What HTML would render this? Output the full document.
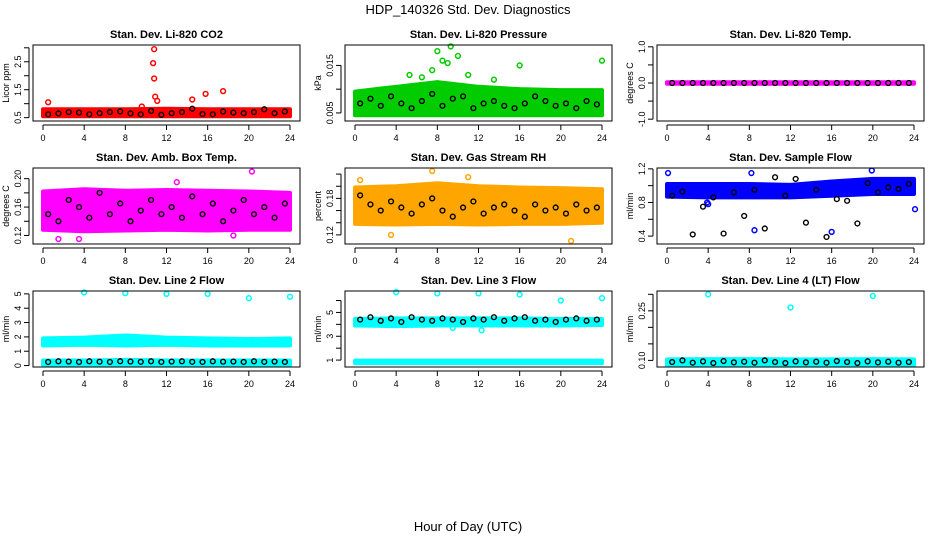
<!DOCTYPE html>
<html><head><meta charset="utf-8">
<style>
body{margin:0;background:#fff;}
svg{display:block;font-family:"Liberation Sans",Arial,sans-serif;}
</style></head>
<body>
<svg id="chart" width="936" height="540" viewBox="0 0 936 540">
<text x="468" y="14" text-anchor="middle" font-size="13">HDP_140326  Std. Dev. Diagnostics</text>
<text x="468" y="531" text-anchor="middle" font-size="13">Hour of Day (UTC)</text>
</svg>
<script>
// ---- shared data ----
const xTicks = [0,4,8,12,16,20,24];
const bandX = [0,4,8,12,16,20,24];
const blackX = [0.5,1.5,2.5,3.5,4.5,5.5,6.5,7.5,8.5,9.5,10.5,11.5,12.5,13.5,14.5,15.5,16.5,17.5,18.5,19.5,20.5,21.5,22.5,23.5];

// Panel 1 CO2
const co2Lo = [0.55,0.55,0.55,0.55,0.55,0.55,0.55];
const co2Hi = [0.8,0.8,0.8,0.82,0.8,0.8,0.8];
const co2OutX = [0.5,10.8,10.7,10.8,10.9,11.1,14.5,15.8,17.5,9.6];
const co2OutY = [1.05,2.95,2.45,1.9,1.25,1.1,1.15,1.35,1.45,0.9];
const co2Black = [0.62,0.65,0.7,0.68,0.62,0.66,0.7,0.72,0.65,0.62,0.74,0.6,0.66,0.7,0.82,0.63,0.62,0.72,0.68,0.66,0.7,0.8,0.66,0.72];
// Panel 2 Pressure
const prLo = [0.0045,0.0045,0.0045,0.0045,0.0045,0.0045,0.0045];
const prHi = [0.0095,0.0105,0.0115,0.0105,0.01,0.0098,0.0098];
const prOutX = [8,8.5,9.3,7.5,9,10,16,24,5.3,11,13.5,6.5];
const prOutY = [0.018,0.016,0.019,0.014,0.0155,0.017,0.015,0.016,0.013,0.013,0.012,0.0125];
const prBlack = [0.007,0.008,0.0065,0.0085,0.007,0.006,0.0075,0.009,0.0065,0.008,0.0085,0.006,0.007,0.0075,0.0065,0.006,0.007,0.0085,0.0075,0.0065,0.007,0.006,0.0075,0.0068];
// Panel 3 Temp
const tLo = [-0.02,-0.02,-0.02,-0.02,-0.02,-0.02,-0.02];
const tHi = [0.02,0.02,0.02,0.02,0.02,0.02,0.02];
const tOutX = [];
const tOutY = [];
const tBlack = [0,0,0,0,0,0,0,0,0,0,0,0,0,0,0,0,0,0,0,0,0,0,0,0];
// Panel 4 Amb box
const abLo = [0.128,0.126,0.127,0.128,0.127,0.128,0.128];
const abHi = [0.182,0.185,0.183,0.184,0.183,0.182,0.18];
const abOutX = [20.3,1.5,3.5,13,18.5];
const abOutY = [0.21,0.115,0.115,0.195,0.12];
const abBlack = [0.15,0.14,0.17,0.16,0.145,0.18,0.15,0.165,0.14,0.155,0.17,0.15,0.16,0.145,0.175,0.15,0.165,0.14,0.155,0.17,0.15,0.16,0.145,0.165];
// Panel 5 Gas RH
const rhLo = [0.138,0.137,0.138,0.137,0.138,0.138,0.14];
const rhHi = [0.198,0.2,0.205,0.2,0.198,0.197,0.195];
const rhOutX = [7.5,0.5,21,3.5,11];
const rhOutY = [0.225,0.21,0.11,0.12,0.215];
const rhBlack = [0.185,0.17,0.16,0.175,0.165,0.155,0.17,0.18,0.16,0.15,0.165,0.175,0.155,0.165,0.17,0.16,0.15,0.17,0.16,0.165,0.155,0.17,0.16,0.165];
// Panel 6 Sample flow
const sfLo = [0.87,0.86,0.86,0.86,0.88,0.9,0.9];
const sfHi = [1.02,1.02,1.02,1.01,1.05,1.08,1.08];
const sfOutX = [0.1,8.2,19.9,24.1,16,8.5,4,3.9];
const sfOutY = [1.15,1.15,1.18,0.72,0.45,0.47,0.78,0.8];
const sfBlack = [0.88,0.93,0.42,0.75,0.86,0.43,0.92,0.64,0.95,0.49,1.1,0.88,1.08,0.56,0.95,0.39,0.84,0.82,0.55,1.03,0.92,0.98,0.96,1.02];
// Panel 7 Line 2
const l2Lo = [1.4,1.45,1.4,1.45,1.4,1.4,1.4];
const l2Hi = [1.9,1.95,2.1,1.95,1.9,1.85,1.9];
const l2Lo2 = [0.05,0.05,0.05,0.05,0.05,0.05,0.05];
const l2Hi2 = [0.35,0.35,0.4,0.35,0.35,0.35,0.35];
const l2OutX = [4,8,12,16,20,24];
const l2OutY = [5.1,5.05,5.0,5.0,4.7,4.8];
const l2Black = [0.25,0.3,0.28,0.25,0.3,0.27,0.25,0.3,0.28,0.26,0.3,0.25,0.28,0.3,0.26,0.25,0.3,0.27,0.28,0.25,0.3,0.26,0.28,0.25];
// Panel 8 Line 3
const l3Lo = [3.9,3.85,3.9,3.9,3.9,3.9,3.95];
const l3Hi = [4.45,4.5,4.5,4.5,4.5,4.45,4.45];
const l3Lo2 = [0.75,0.75,0.75,0.75,0.75,0.75,0.75];
const l3Hi2 = [0.95,0.95,0.95,0.95,0.95,0.95,0.95];
const l3OutX = [4,8,12,16,20,24,12.3,9.5];
const l3OutY = [6.7,6.6,6.6,6.5,6.0,6.2,3.5,3.7];
const l3Black = [4.4,4.6,4.3,4.5,4.2,4.6,4.4,4.3,4.5,4.4,4.2,4.5,4.4,4.6,4.3,4.5,4.6,4.3,4.4,4.2,4.4,4.5,4.3,4.4];
// Panel 9 Line 4
const l4Lo = [0.085,0.085,0.085,0.085,0.085,0.085,0.085];
const l4Hi = [0.103,0.104,0.104,0.103,0.103,0.104,0.103];
const l4OutX = [4,12,20];
const l4OutY = [0.3,0.26,0.295];
const l4Black = [0.095,0.1,0.093,0.097,0.092,0.098,0.094,0.096,0.093,0.1,0.095,0.092,0.097,0.094,0.096,0.093,0.098,0.095,0.092,0.097,0.094,0.096,0.093,0.095];

const panels = [
 {title:"Stan. Dev. Li-820 CO2", ylab:"Licor ppm", ymin:0.38, ymax:3.1, ticks:[0.5,1,1.5,2,2.5,3], labels:["0.5","","1.5","","2.5",""], col:"#ff0000", lo:co2Lo, hi:co2Hi, ox:co2OutX, oy:co2OutY, blk:co2Black},
 {title:"Stan. Dev. Li-820 Pressure", ylab:"kPa", ymin:0.0033, ymax:0.0193, ticks:[0.005,0.01,0.015], labels:["0.005","","0.015"], col:"#00cc00", lo:prLo, hi:prHi, ox:prOutX, oy:prOutY, blk:prBlack},
 {title:"Stan. Dev. Li-820 Temp.", ylab:"degrees C", ymin:-1.05, ymax:1.05, ticks:[-1,-0.5,0,0.5,1], labels:["-1.0","","0.0","","1.0"], col:"#ff00ff", lo:tLo, hi:tHi, ox:tOutX, oy:tOutY, blk:tBlack},
 {title:"Stan. Dev. Amb. Box Temp.", ylab:"degrees C", ymin:0.108, ymax:0.215, ticks:[0.12,0.14,0.16,0.18,0.2], labels:["0.12","","0.16","","0.20"], col:"#ff00ff", lo:abLo, hi:abHi, ox:abOutX, oy:abOutY, blk:abBlack},
 {title:"Stan. Dev. Gas Stream RH", ylab:"percent", ymin:0.105, ymax:0.23, ticks:[0.12,0.14,0.16,0.18,0.2,0.22], labels:["0.12","","","0.18","",""], col:"#ffa500", lo:rhLo, hi:rhHi, ox:rhOutX, oy:rhOutY, blk:rhBlack},
 {title:"Stan. Dev. Sample Flow", ylab:"ml/min", ymin:0.306, ymax:1.21, ticks:[0.4,0.6,0.8,1.0,1.2], labels:["0.4","","0.8","","1.2"], col:"#0000ff", lo:sfLo, hi:sfHi, ox:sfOutX, oy:sfOutY, blk:sfBlack},
 {title:"Stan. Dev. Line 2 Flow", ylab:"ml/min", ymin:-0.1, ymax:5.2, ticks:[0,1,2,3,4,5], labels:["0","1","2","3","4","5"], col:"#00ffff", lo:l2Lo, hi:l2Hi, lo2:l2Lo2, hi2:l2Hi2, ox:l2OutX, oy:l2OutY, blk:l2Black},
 {title:"Stan. Dev. Line 3 Flow", ylab:"ml/min", ymin:0.42, ymax:6.8, ticks:[1,2,3,4,5,6], labels:["1","","3","","5",""], col:"#00ffff", lo:l3Lo, hi:l3Hi, lo2:l3Lo2, hi2:l3Hi2, ox:l3OutX, oy:l3OutY, blk:l3Black},
 {title:"Stan. Dev. Line 4 (LT) Flow", ylab:"ml/min", ymin:0.08, ymax:0.31, ticks:[0.1,0.15,0.2,0.25,0.3], labels:["0.10","","","0.25",""], col:"#00ffff", lo:l4Lo, hi:l4Hi, ox:l4OutX, oy:l4OutY, blk:l4Black}
];

const NS="http://www.w3.org/2000/svg";
const svg=document.getElementById('chart');
function mk(tag,attrs,parent){const e=document.createElementNS(NS,tag);for(const k in attrs)e.setAttribute(k,attrs[k]);(parent||svg).appendChild(e);return e;}

panels.forEach((p,i)=>{
  const c=i%3, r=Math.floor(i/3);
  const L=33+312*c, R=300+312*c, T=45+123*r, B=121+123*r;
  const x0=L+10, x1=R-10;
  const sx=v=>x0+(x1-x0)*v/24;
  const sy=v=>B-(B-T)*(v-p.ymin)/(p.ymax-p.ymin);
  const g=mk('g',{});
  
  
  const t=mk('text',{x:(L+R)/2,y:T-7,'text-anchor':'middle','font-size':'11','font-weight':'bold'},g);
  t.textContent=p.title;
  
  
  // band(s)
  const drawBand=(lo,hi)=>{
    let pts=bandX.map((x,k)=>sx(x)+','+sy(hi[k]));
    pts=pts.concat(bandX.slice().reverse().map((x,k)=>sx(x)+','+sy(lo[bandX.length-1-k])));
    const pg=mk('polygon',{points:pts.join(' '),fill:p.col,stroke:p.col,'stroke-width':'4','stroke-linejoin':'round'},g);
    
    
  };
  drawBand(p.lo,p.hi);
  if(p.lo2) drawBand(p.lo2,p.hi2);
  p.ox.forEach((x,k)=>{
    const ci=mk('circle',{cx:sx(x),cy:sy(p.oy[k]),r:2.4,fill:'none',stroke:p.col,'stroke-width':'1.5'},g);
    
    
  });
  blackX.forEach((x,k)=>{
    const ci=mk('circle',{cx:sx(x),cy:sy(p.blk[k]),r:2.4,fill:'none',stroke:'#000','stroke-width':'1.4'},g);
    
    
  });
  const box=mk('rect',{x:L,y:T,width:R-L,height:B-T,fill:'none',stroke:'#000','stroke-width':'1'},g);
  
  
  // x axis
  mk('line',{x1:sx(0),x2:sx(24),y1:B+4,y2:B+4,stroke:'#000'},g);
  xTicks.forEach(v=>{
    mk('line',{x1:sx(v),x2:sx(v),y1:B+4,y2:B+9,stroke:'#000'},g);
    const tl=mk('text',{x:sx(v),y:B+20,'text-anchor':'middle','font-size':'9'},g);
    tl.textContent=v;
    
    
  });
  // y axis
  const yt=p.ticks.filter(v=>v>=p.ymin&&v<=p.ymax);
  mk('line',{x1:L-4,x2:L-4,y1:sy(yt[0]),y2:sy(yt[yt.length-1]),stroke:'#000'},g);
  p.ticks.forEach((v,k)=>{
    if(v<p.ymin||v>p.ymax)return;
    const y=sy(v);
    mk('line',{x1:L-9,x2:L-4,y1:y,y2:y,stroke:'#000'},g);
    if(p.labels[k]){
      const tl=mk('text',{x:L-12,y:y,'text-anchor':'middle','font-size':'9',transform:'rotate(-90 '+(L-12)+' '+y+')'},g);
      tl.textContent=p.labels[k];
      
      
    }
  });
  const yl=mk('text',{x:L-24,y:(T+B)/2,'text-anchor':'middle','font-size':'9',transform:'rotate(-90 '+(L-24)+' '+((T+B)/2)+')'},g);
  yl.textContent=p.ylab;
  
  
});
</script>
</body></html>
